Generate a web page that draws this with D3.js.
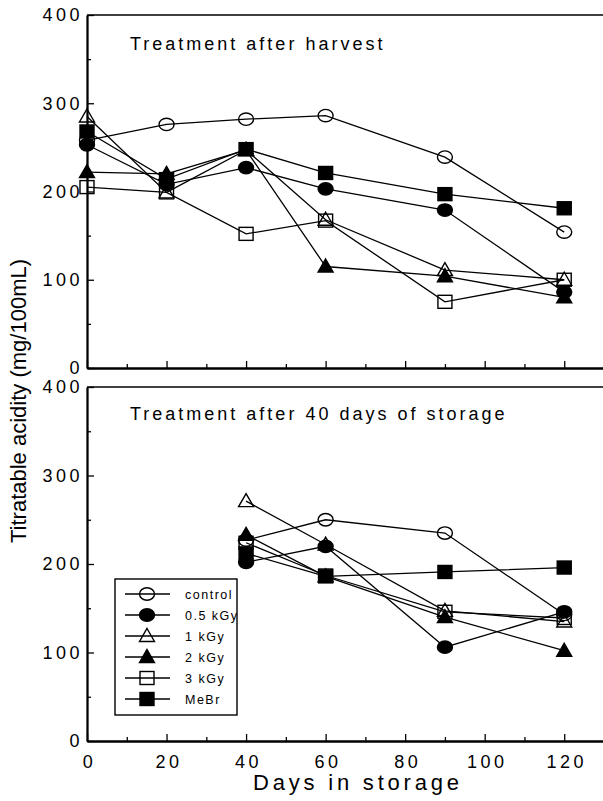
<!DOCTYPE html>
<html>
<head>
<meta charset="utf-8">
<script src="https://cdn.jsdelivr.net/npm/d3@7"></script>
<style>
  body { margin: 0; background: #fff; }
  svg { display: block; font-family: "Liberation Sans", Arial, sans-serif; }
</style>
</head>
<body>
<svg id="chart" width="603" height="801"></svg>
<script>
// titratable acidity, two panels sharing the x axis

// DATA
var seriesNames = ['control', '0.5 kGy', '1 kGy', '2 kGy', '3 kGy', 'MeBr'];
var markerTypes = ['circle-open', 'circle-filled', 'triangle-open', 'triangle-filled', 'square-open', 'square-filled'];

// top panel - treatment after harvest
var daysHarvest = [0, 20, 40, 60, 90, 120];
var controlHarvest = [258, 276, 282, 286, 239, 154];
var kGy05Harvest = [253, 208, 227, 203, 179, 86];
var kGy1Harvest = [285, 199, 247, 168, 111, 100];
var kGy2Harvest = [222, 220, 247, 115, 104, 80];
var kGy3Harvest = [205, 199, 152, 167, 75, 100];
var mebrHarvest = [268, 214, 248, 221, 197, 181];

// bottom panel - treatment after 40 days of storage
var daysStorage = [40, 60, 90, 120];
var controlStorage = [227, 250, 235, 143];
var kGy05Storage = [202, 220, 106, 146];
var kGy1Storage = [271, 222, 147, 135];
var kGy2Storage = [233, 186, 140, 102];
var kGy3Storage = [224, 187, 146, 139];
var mebrStorage = [212, 186, 191, 196];

var xTicks = [0, 20, 40, 60, 80, 100, 120];
var xMinorTicks = [10, 30, 50, 70, 90, 110, 130];
var yTicks = [0, 100, 200, 300, 400];
var yMinorTicks = [50, 150, 250, 350];

var svg = d3.select('#chart');

// scales
var x = d3.scaleLinear().domain([0, 130]).range([87, 604]);
var yTop = d3.scaleLinear().domain([0, 400]).range([368, 15]);
var yBottom = d3.scaleLinear().domain([0, 400]).range([741, 387]);

function drawMarker(g, type, cx, cy) {
    var filled = type.indexOf('filled') > -1;
    var shape;
    if (type.indexOf('circle') === 0) {
        shape = g.append('ellipse').attr('cx', cx).attr('cy', cy).attr('rx', 7.5).attr('ry', 6.2);
    }
    else if (type.indexOf('triangle') === 0) {
        shape = g.append('path')
            .attr('d', 'M' + cx + ',' + (cy - 7.5) + 'L' + (cx + 7.5) + ',' + (cy + 5.5) + 'L' + (cx - 7.5) + ',' + (cy + 5.5) + 'Z');
    }
    else {
        shape = g.append('rect').attr('x', cx - 7).attr('y', cy - 6.5).attr('width', 14).attr('height', 13);
    }
    shape.attr('fill', filled ? '#000' : 'none')
        .attr('stroke', '#000')
        .attr('stroke-width', 1.4);
}

function drawPanel(y, days, allSeries, title, titleY, showXLabels) {
    var g = svg.append('g');

    // frame top line runs off the right edge
    g.append('line')
        .attr('x1', x(0)).attr('x2', 603)
        .attr('y1', y(400)).attr('y2', y(400))
        .attr('stroke', '#000').attr('stroke-width', 1.6);

    // y axis, ticks point inward
    var yAxis = g.append('g')
        .attr('transform', 'translate(' + x(0) + ',0)')
        .call(d3.axisLeft(y).tickValues(yTicks).tickSize(-7).tickSizeOuter(0).tickPadding(4));
    g.append('g')
        .attr('transform', 'translate(' + x(0) + ',0)')
        .call(d3.axisLeft(y).tickValues(yMinorTicks).tickSize(-4).tickSizeOuter(0).tickFormat(''));

    // x axis
    var xAxis = g.append('g')
        .attr('transform', 'translate(0,' + y(0) + ')')
        .call(d3.axisBottom(x).tickValues(xTicks).tickSize(-7).tickSizeOuter(0).tickPadding(14)
            .tickFormat(showXLabels ? d3.format('d') : ''));
    g.append('g')
        .attr('transform', 'translate(0,' + y(0) + ')')
        .call(d3.axisBottom(x).tickValues(xMinorTicks).tickSize(-4).tickSizeOuter(0).tickFormat(''));

    g.selectAll('.domain').attr('stroke-width', 1.8);
    g.selectAll('.tick line').attr('stroke-width', 1.3);
    g.selectAll('.tick text')
        .attr('font-size', 18)
        .attr('letter-spacing', 3.5)
        .attr('font-family', '"Liberation Sans", Arial, sans-serif')
        .attr('fill', '#000');
    xAxis.selectAll('.tick text').attr('dx', 2);

    g.append('text')
        .attr('x', 130).attr('y', titleY)
        .attr('font-size', 18)
        .attr('letter-spacing', 3)
        .text(title);

    var line = d3.line()
        .x(function(d){ return x(d[0]); })
        .y(function(d){ return y(d[1]); });

    for (var s = 0; s < allSeries.length; s++) {
        var pts = days.map(function(d, i){ return [d, allSeries[s][i]]; });
        g.append('path')
            .attr('d', line(pts))
            .attr('fill', 'none')
            .attr('stroke', '#000')
            .attr('stroke-width', 1.3);
        for (var p = 0; p < pts.length; p++) {
            drawMarker(g, markerTypes[s], x(pts[p][0]), y(pts[p][1]));
        }
    }
}

drawPanel(yTop, daysHarvest,
    [controlHarvest, kGy05Harvest, kGy1Harvest, kGy2Harvest, kGy3Harvest, mebrHarvest],
    'Treatment after harvest', 50, false);

drawPanel(yBottom, daysStorage,
    [controlStorage, kGy05Storage, kGy1Storage, kGy2Storage, kGy3Storage, mebrStorage],
    'Treatment after 40 days of storage', 420, true);

// axis titles
svg.append('text')
    .attr('transform', 'translate(26,401) rotate(-90)')
    .attr('text-anchor', 'middle')
    .attr('font-size', 22)
    .text('Titratable acidity (mg/100mL)');

svg.append('text')
    .attr('x', 253).attr('y', 790)
    .attr('font-size', 22)
    .attr('letter-spacing', 3.8)
    .text('Days in storage');

// LEGEND
var legend = svg.append('g');
legend.append('rect')
    .attr('x', 115).attr('y', 579)
    .attr('width', 122).attr('height', 136)
    .attr('fill', '#fff')
    .attr('stroke', '#000')
    .attr('stroke-width', 1.4);

for (var i = 0; i < seriesNames.length; i++) {
    var ly = 594 + i * 21;
    legend.append('line')
        .attr('x1', 125).attr('x2', 170)
        .attr('y1', ly).attr('y2', ly)
        .attr('stroke', '#000').attr('stroke-width', 1.3);
    drawMarker(legend, markerTypes[i], 147, ly);
    legend.append('text')
        .attr('x', 185).attr('y', ly + 4.5)
        .attr('font-size', 12.5)
        .attr('letter-spacing', 1.5)
        .text(seriesNames[i]);
}
</script>
</body>
</html>
